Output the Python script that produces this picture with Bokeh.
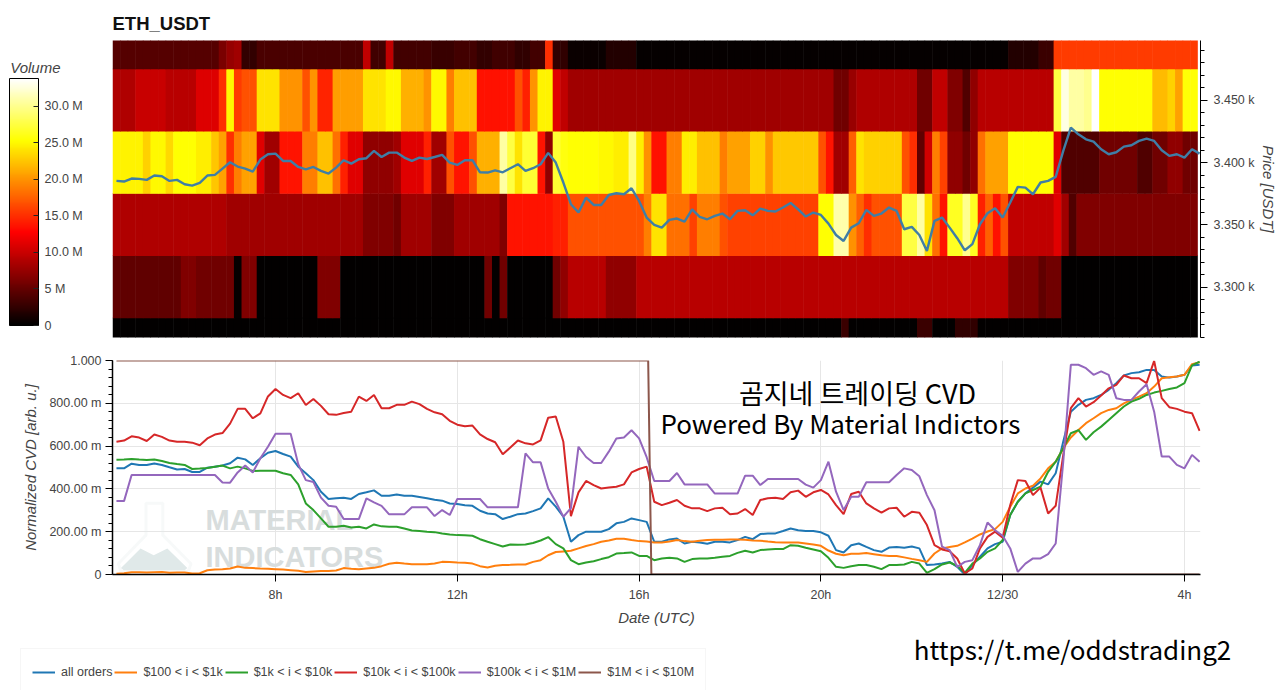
import numpy as np
from bokeh.plotting import figure
from bokeh.layouts import column
from bokeh.embed import file_html
from bokeh.resources import INLINE
from bokeh.models import (ColumnDataSource, LinearColorMapper, ColorBar, FixedTicker, Range1d,
                          Legend, LegendItem, Label, PolyAnnotation, LinearAxis)
from bokeh.transform import transform

# ---- data -------------------------------------------------------------
pair = "ETH_USDT"
price_bins = [3250, 3300, 3350, 3400, 3450, 3500]
volume_3500 = [4.3]*14+[6.2,7.5,8]+[2.6]*2+[3.7]*14+[9.6]+[3.2]*2+[9.6]+[3.4]*5+[2.8]*3+[3.4]*3+[2.6]*2+[3.2]*3+[2.4]*2+[3.4]*2+[15]+[2.4]*2+[.6]*5+[1.8]*4+[.3]*49+[1.8]*4+[3]*2+[15.6]*19
volume_3450 = [8.8]*3+[10]*4+[9.2]*4+[11]*3+[15,25,15.7]+[16.7]*2+[24]*3+[20]*3+[16.7,20]+[14.5]*2+[20.5]*4+[24]*3+[25]*2+[21.5]*3+[20]+[25]*2+[19]+[22.3]*3+[13.5]*5+[16.7,14.3,20]+[24.7]*2+[11.2,9.6]+[8]*35+[5.6]*2+[7.6]+[8.8]*8+[5.6]*2+[9.6]*2+[6.4]*2+[4,7.2]+[9.2]*10+[27.5,32.8]+[30.7]*2+[30,33.8]+[25.4]*7+[22]*2+[23.1,20.7]+[25.6]*2
volume_3400 = [24.7]*4+[23]+[25]*2+[23.5]+[25.4]*3+[24.5]*2+[22.5,20.7,15,19]+[20.7]*2+[11.2]+[8]*2+[13.7]*3+[19]*2+[22.3]*2+[18.3,14.3]+[11.2]*2+[7.2]*4+[8]+[11.2]*3+[14.3]+[8]*2+[16.7]+[13.7]*2+[16.7]+[21.5]*3+[30.7,27.5,23.9]+[27]*2+[13.7,7.2]+[27,25.8,25.4,25.4,25.4,25.4,25,25,24.5,24.5,29.6,24.5]+[19.9]+[13.5]*2+[19]*2+[24.5]*2+[22.3]*3+[19]+[20.7]*3+[23.1]*2+[19.9]+[22.7]*6+[16.7,13.7]+[8]*2+[17.5,23.9]+[23.1]*5+[16.7,15,4.8,10.4,19,15.9]+[7.2]*2+[5.6,7.2,18.3]+[20.7]*3+[25.4]*6+[11.2]+[4]*5+[5.6]*5+[4]*2+[5.6]*2+[7.2]*2+[5.6]*2
volume_3350 = [8.8]*15+[8]*18+[6.4]*4+[5.6]+[8]*4+[6.4]*3+[8]*6+[6.4]+[13.7]*6+[14.3]*2+[16.7]*10+[19]+[23.9]*2+[18.3]*3+[15.9]+[19]*3+[16.7]+[15.9]*12+[25.4]*2+[31]*2+[19.9,17.5,15]+[16.7]*4+[27.5]*2+[30.7,23.9,18.3,13.5]+[26.5]*2+[30,26.5,14.3,17.5,13.5,16.7]+[9.6]*6+[11.2,8,4]+[6.4]*16
volume_3300 = [4.8]*9+[6.4]*2+[5.6]*5+[.3]+[6.4]*2+[.2]*8+[6.4]*3+[.2]*19+[5.6,.2,5.6]+[.2]*6+[5.6,7.2]+[9.2]*5+[7.2]*4+[9.2]*49+[6.4]*4+[4.8]+[5.6]*2+[.2]*18
volume_3250 = [.2]*96+[3]+[.2]*9+[3]*2+[.2]*3+[2.4]*3+[.2]*29

price = [3385.3,3384.8,3387.2,3386.9,3386.1,3389.6,3389.0,3385.3,3386.1,3382.6,3381.5,3383.7,3389.6,3390.1,3395.2,3400.3,3396.8,3395.2,3392.8,3402.4,3406.7,3407.2,3401.3,3401.3,3396.5,3394.6,3396.5,3393.3,3391.2,3396,3401.9,3399.2,3402.7,3403.5,3409.4,3404.5,3408,3408,3404,3401.3,3404,3402.9,
3404.5,3406.2,3400,3398.1,3401.9,3401.9,3392.2,3392,3393.8,3392.2,3395.5,3398.7,3393.3,3395.5,3398.7,3407.8,3400,3384,3366.6,3359.9,3371.9,3366,3366,3374,3375.4,3374.6,3379.4,3369.2,3355.9,3350,3347.8,3354,3355.1,3352.6,3362.5,3356.4,3354.5,3357.2,3359.1,3354.5,3361.2,3361.7,3357.7,3363.1,3361.2,3360.7,3363.9,3367.6,3362.5,3356.7,3359.9,3358,3351,3341.9,3337.1,3347.8,
3351.3,3362,3357.2,3359.1,3363.9,3361.2,3346.5,3348.4,3341.9,3329.1,3353.2,3355.9,3347.8,3339.3,3329.6,3334.5,3350.5,3359.3,3363.4,3355.9,3367.9,3380.5,3379.9,3374.6,3384,3385.3,3388.5,3409.4,3428.1,3422.7,3418.7,3416.9,3410.7,3406.7,3408.3,3412.8,3413.9,3417.4,3419.3,3417.4,3409.9,3405.4,3406.7,3404,3410.7,3407.2]

cvd_all = [.496,.496,.518,.512,.512,.519,.512,.501,.491,.493,.479,.479,.499,.504,.509,.52,.546,.538,.512,.543,.569,.577,.563,.551,.504,.473,.441,.387,.353,.356,.359,.353,.376,.384,.393,.368,.368,.374,.368,.368,.362,.356,
.349,.345,.332,.329,.324,.321,.298,.285,.282,.259,.27,.282,.285,.296,.309,.356,.317,.27,.153,.184,.2,.2,.2,.212,.239,.246,.262,.254,.246,.153,.153,.164,.168,.145,.153,.15,.144,.153,.153,.15,.161,.176,.165,.189,.192,.192,.203,.215,.207,.203,.203,.197,.181,.114,.103,.137,
.145,.129,.114,.106,.126,.128,.125,.131,.122,.044,.047,.051,.059,.036,0,.044,.083,.122,.142,.153,.278,.34,.379,.406,.434,.421,.473,.621,.761,.793,.816,.824,.839,.863,.894,.93,.941,.945,.956,.956,.925,.92,.925,.933,.977,.98]
cvd_100_1k = [.003,.006,.011,.011,.009,.011,.012,.008,.009,.009,.005,.006,.02,.023,.025,.028,.037,.031,.03,.028,.027,.025,.023,.02,.017,.012,.014,.016,.016,.019,.03,.027,.025,.028,.031,.039,.05,.055,.051,.048,.048,.048,
.051,.059,.058,.056,.055,.051,.039,.033,.041,.044,.045,.047,.047,.059,.067,.09,.105,.108,.111,.122,.133,.142,.153,.159,.167,.167,.161,.156,.154,.15,.15,.154,.161,.156,.153,.158,.161,.162,.162,.164,.164,.162,.159,.158,.154,.151,.15,.15,.15,.145,.14,.134,.112,.097,.09,.097,
.097,.1,.095,.09,.087,.086,.08,.073,.067,.059,.098,.122,.128,.134,.15,.168,.187,.201,.212,.246,.317,.379,.402,.415,.449,.496,.527,.59,.64,.675,.707,.73,.754,.769,.777,.8,.816,.831,.847,.878,.917,.922,.925,.933,.983,.992]
cvd_1k_10k = [.536,.537,.54,.537,.535,.537,.53,.521,.516,.512,.493,.495,.498,.504,.509,.496,.504,.496,.484,.485,.485,.485,.473,.465,.421,.332,.301,.262,.223,.223,.228,.22,.223,.215,.234,.225,.223,.223,.215,.206,.203,.2,
.198,.192,.187,.184,.183,.181,.165,.153,.142,.131,.14,.139,.14,.147,.159,.175,.142,.122,.067,.048,.056,.062,.072,.081,.098,.1,.103,.087,.087,.067,.075,.078,.075,.059,.072,.075,.075,.078,.083,.087,.101,.111,.103,.114,.117,.119,.119,.137,.134,.125,.117,.109,.078,.036,.031,.039,
.044,.044,.036,.025,.044,.044,.047,.059,.051,.008,.025,.047,.056,.041,.008,.051,.075,.106,.122,.161,.278,.34,.379,.395,.41,.48,.527,.59,.66,.675,.629,.665,.691,.722,.754,.785,.808,.821,.839,.85,.858,.867,.874,.894,.977,.995]
cvd_10k_100k = [.62,.626,.646,.64,.624,.654,.643,.626,.62,.62,.616,.604,.636,.654,.661,.705,.774,.774,.73,.753,.832,.867,.839,.824,.847,.792,.82,.788,.749,.746,.755,.761,.831,.811,.839,.777,.777,.793,.793,.808,.796,.774,
.758,.749,.718,.7,.693,.696,.655,.633,.618,.562,.593,.626,.613,.608,.627,.733,.738,.62,.273,.384,.437,.418,.402,.406,.41,.421,.477,.493,.504,.34,.324,.335,.348,.321,.309,.309,.296,.309,.312,.281,.285,.306,.278,.348,.356,.359,.353,.384,.392,.363,.384,.395,.374,.324,.282,.376,
.387,.332,.309,.289,.309,.312,.27,.293,.289,.231,.137,.117,.109,.075,.005,.028,.122,.176,.2,.172,.325,.441,.437,.371,.406,.285,.321,.559,.777,.824,.785,.805,.836,.87,.886,.93,.917,.917,.894,.998,.824,.782,.774,.761,.754,.671]
cvd_100k_1m = [.343,.343,.465,.465,.465,.465,.465,.465,.465,.465,.465,.465,.465,.465,.43,.429,.477,.509,.477,.543,.597,.658,.658,.658,.515,.441,.432,.359,.321,.317,.259,.259,.259,.356,.337,.321,.281,.281,.281,.314,.314,.314,
.273,.301,.278,.353,.353,.353,.353,.314,.314,.314,.314,.314,.566,.524,.524,.402,.34,.27,.31,.597,.549,.521,.521,.574,.636,.64,.674,.636,.548,.437,.437,.437,.474,.421,.421,.421,.421,.378,.378,.378,.378,.462,.462,.418,.446,.446,.446,.446,.446,.42,.406,.441,.527,.387,.301,.363,
.363,.431,.431,.431,.431,.465,.496,.488,.459,.371,.3,.13,.114,.036,.059,.067,.137,.243,.207,.181,.122,.012,.051,.075,.075,.095,.145,.527,.98,.98,.964,.933,.949,.933,.824,.816,.816,.855,.889,.761,.551,.551,.512,.496,.559,.527]
cvd_1m_10m_hours = [4.5, 16.2, 16.27, 28.33]
cvd_1m_10m = [1.0, 1.0, 0.0, 0.0]
series_labels = ["all orders", "$100 < i < $1k", "$1k < i < $10k", "$10k < i < $100k", "$100k < i < $1M", "$1M < i < $10M"]
series_colors = ["#1f77b4", "#ff7f0e", "#2ca02c", "#d62728", "#9467bd", "#8c564b"]
price_ticks = [3300, 3350, 3400, 3450]
price_tick_labels = ["3.300 k", "3.350 k", "3.400 k", "3.450 k"]
cvd_ticks = [0, .2, .4, .6, .8, 1.0]
cvd_tick_labels = ["0", "200.00 m", "400.00 m", "600.00 m", "800.00 m", "1.000"]
time_ticks = [8, 12, 16, 20, 24, 28]
time_tick_labels = ["8h", "12h", "16h", "20h", "12/30", "4h"]
volume_ticks = [0, 5, 10, 15, 20, 25, 30]
volume_tick_labels = ["0", "5 M", "10.0 M", "15.0 M", "20.0 M", "25.0 M", "30.0 M"]

# ---- helpers ----------------------------------------------------------
DAY0 = np.datetime64("2024-12-29T00:00:00", "ms").astype("int64")
def ms(h):
    return DAY0 + np.asarray(h, dtype=float) * 3600_000.0

def hot_palette(n=256):
    t = np.linspace(0, 1, n)
    r = np.clip(t / 0.375, 0, 1)
    g = np.clip((t - 0.375) / 0.375, 0, 1)
    b = np.clip((t - 0.75) / 0.25, 0, 1)
    return ["#%02x%02x%02x" % (int(a * 255), int(c * 255), int(d * 255)) for a, c, d in zip(r, g, b)]

n_col = 143
rows = [volume_3250, volume_3300, volume_3350, volume_3400, volume_3450, volume_3500]
for r in rows:
    assert len(r) == n_col, len(r)
for s in [cvd_all, cvd_100_1k, cvd_1k_10k, cvd_10k_100k, cvd_100k_1m, price]:
    assert len(s) == 144, len(s)

HEAT_START = 4.413
COL_H = 10.02 / 60
X0, X1 = float(ms(HEAT_START)), float(ms(28.353))
line_h = 4.5 + np.arange(144) / 6.0

left, right, bot, top, val = [], [], [], [], []
for b, r in zip(price_bins, rows):
    for i, v in enumerate(r):
        left.append(float(ms(HEAT_START + COL_H * i)))
        # each cell runs slightly under its neighbour so no seam shows between cells
        right.append(float(ms(HEAT_START + COL_H * (i + 1) + (0.012 if i < n_col - 1 else 0))))
        bot.append(b - 25); top.append(b + 25.4); val.append(v)

FONT = "Liberation Sans"
GREY = "#444444"

# ---- top heat map -----------------------------------------------------
p1 = figure(width=1280, height=352, x_axis_type="datetime", x_axis_location=None,
            y_axis_location="right", toolbar_location=None, output_backend="svg",
            x_range=Range1d(X0, X1), y_range=Range1d(3259.6, 3498),
            min_border_left=112, min_border_right=80, min_border_top=40, min_border_bottom=15,
            title=pair, outline_line_color=None)
p1.title.text_font = FONT
p1.title.text_font_size = "18.5px"
p1.title.text_font_style = "bold"
p1.title.text_color = "#111111"
p1.title.align = "left"
p1.title.standoff = 13
p1.grid.visible = False

mapper = LinearColorMapper(palette=hot_palette(), low=0, high=33.8)
src = ColumnDataSource(dict(left=left, right=right, bottom=bot, top=top, val=val))
p1.quad(left="left", right="right", bottom="bottom", top="top", source=src,
        fill_color=transform("val", mapper), line_color=None)
p1.line(ms(line_h), price, line_color="#3f7ea6", line_width=2.4)

ax = p1.yaxis[0]
ax.ticker = FixedTicker(ticks=price_ticks, minor_ticks=list(range(3260, 3500, 10)))
ax.major_label_overrides = dict(zip(price_ticks, price_tick_labels))
ax.axis_label = "Price [USDT]"
ax.axis_label_text_font = FONT
ax.axis_label_text_font_style = "italic"
ax.axis_label_text_font_size = "15px"
ax.axis_label_text_color = GREY
ax.axis_label_standoff = 2
ax.major_label_text_font = FONT
ax.major_label_text_font_size = "12.5px"
ax.major_label_text_color = GREY
ax.major_label_standoff = 6
ax.axis_line_color = "#000000"
ax.major_tick_line_color = "#000000"
ax.minor_tick_line_color = "#000000"
ax.major_tick_in = 0; ax.major_tick_out = 7
ax.minor_tick_in = 0; ax.minor_tick_out = 4

cb = ColorBar(color_mapper=mapper, location=(-103, 12), width=29, height=247,
              ticker=FixedTicker(ticks=volume_ticks),
              major_label_overrides=dict(zip(volume_ticks, volume_tick_labels)),
              major_label_text_font=FONT, major_label_text_font_size="12.5px",
              major_label_text_color=GREY, major_tick_line_color="#222222", major_tick_in=5,
              bar_line_color="#000000", border_line_color=None, background_fill_color=None,
              label_standoff=6, padding=0, margin=0)
p1.add_layout(cb, "center")

# the colour bar's heading: a one-label axis is the only text Bokeh leaves unclipped in this margin
VOLUME_TICK = 3476
vol_axis = LinearAxis(ticker=FixedTicker(ticks=[VOLUME_TICK]),
                      major_label_overrides={VOLUME_TICK: "Volume"},
                      major_label_text_font=FONT, major_label_text_font_style="italic",
                      major_label_text_font_size="15px", major_label_text_color=GREY,
                      major_label_standoff=52, axis_line_color=None, major_tick_line_color=None,
                      minor_tick_line_color=None, major_tick_in=0, major_tick_out=0)
p1.add_layout(vol_axis, "left")

# ---- bottom CVD -------------------------------------------------------
p2 = figure(width=1280, height=278, x_axis_type="datetime", toolbar_location=None,
            output_backend="svg", x_range=Range1d(X0, X1), y_range=Range1d(0, 1),
            min_border_left=112, min_border_right=80, min_border_top=8, min_border_bottom=56,
            outline_line_color=None)
p2.grid.grid_line_color = "#e6e6e6"

flask = PolyAnnotation(xs=ms([5.15, 5.52, 5.52, 6.14, 6.08, 4.6, 4.54, 5.15]).tolist(),
                       ys=[.333, .333, .184, .05, .015, .015, .05, .184],
                       fill_alpha=0, line_color="#e6eaea", line_width=3, level="underlay")
peak = PolyAnnotation(xs=ms([4.6, 5.03, 5.32, 5.62, 6.06, 6.0, 4.66]).tolist(),
                      ys=[.03, .122, .09, .122, .03, .02, .02],
                      fill_color="#e0e9e9", fill_alpha=1, line_color=None, level="underlay")
p2.add_layout(flask); p2.add_layout(peak)
for txt, hh, vv in [("MATERIAL", 6.46, .254), ("INDICATORS", 6.46, .08)]:
    p2.add_layout(Label(x=float(ms(hh)), y=vv, text=txt, text_font=FONT, text_font_style="bold",
                        text_font_size="29px", text_color="#d8dddd", text_baseline="middle",
                        text_align="left", level="underlay"))

all_series = [(line_h, cvd_all), (line_h, cvd_100_1k), (line_h, cvd_1k_10k), (line_h, cvd_10k_100k),
              (line_h, cvd_100k_1m), (cvd_1m_10m_hours, cvd_1m_10m)]
for (hs, ys), col in zip(all_series, series_colors):
    p2.line(ms(hs), ys, line_color=col, line_width=2)

ya, xa = p2.yaxis[0], p2.xaxis[0]
ya.ticker = FixedTicker(ticks=cvd_ticks, minor_ticks=[round(i * .04, 2) for i in range(26)])
ya.major_label_overrides = dict(zip(cvd_ticks, cvd_tick_labels))
ya.axis_label = "Normalized CVD [arb. u.]"
xa.ticker = FixedTicker(ticks=[float(ms(t)) for t in time_ticks])
xa.major_label_overrides = {float(ms(t)): l for t, l in zip(time_ticks, time_tick_labels)}
xa.axis_label = "Date (UTC)"
for a in (ya, xa):
    a.axis_label_text_font = FONT
    a.axis_label_text_font_style = "italic"
    a.axis_label_text_font_size = "15px"
    a.axis_label_text_color = GREY
    a.major_label_text_font = FONT
    a.major_label_text_font_size = "12.5px"
    a.major_label_text_color = GREY
    a.axis_line_color = "#000000"
    a.axis_line_width = 1.5
    a.major_tick_line_color = "#000000"
    a.major_tick_in = 0; a.major_tick_out = 7
ya.minor_tick_line_color = "#000000"
ya.minor_tick_in = 0; ya.minor_tick_out = 4
xa.minor_tick_line_color = None
xa.major_label_standoff = 6
xa.axis_label_standoff = 4
ya.major_label_standoff = 4
ya.axis_label_standoff = 7

def px_h(px):
    return float(ms(8 + (px - 275) / 45.45))
def px_v(py):
    return (574.3 - py) / 214.0
for txt, cx, cy, size in [("곰지네 트레이딩 CVD", 857, 392, "27px"),
                          ("Powered By Material Indictors", 840, 422, "26px")]:
    p2.add_layout(Label(x=px_h(cx), y=px_v(cy), text=txt, text_font="Noto Sans CJK KR", text_font_size=size,
                        text_color="#000000", text_align="center", text_baseline="middle", level="overlay"))

# ---- strip below the chart: legend and link ---------------------------
p3 = figure(width=1280, height=60, x_axis_location=None, y_axis_location=None, toolbar_location=None,
            output_backend="svg", x_range=Range1d(0, 1280), y_range=Range1d(60, 0),
            min_border_left=0, min_border_right=0, min_border_top=0, min_border_bottom=0,
            outline_line_color=None)
p3.grid.visible = False
# the series' lines sit far outside this strip's range, so only their legend keys show
keys = [p3.line(ms(hs), ys, line_color=c, line_width=2) for (hs, ys), c in zip(all_series, series_colors)]
legend = Legend(items=[LegendItem(label=l, renderers=[r]) for l, r in zip(series_labels, keys)],
                orientation="horizontal", location=(20, -6), label_text_font=FONT,
                label_text_font_size="12.5px", label_text_color=GREY, glyph_width=23,
                label_height=24, glyph_height=24,
                label_standoff=6, spacing=2, padding=11, margin=0, border_line_color="#eeeeee",
                background_fill_color="#ffffff", background_fill_alpha=1)
p3.add_layout(legend, "center")
p3.add_layout(Label(x=1072, y=18, text="https://t.me/oddstrading2", text_font="Noto Sans CJK KR",
                    text_font_size="26px", text_color="#000000", text_align="center", text_baseline="middle"))

layout = column(column(p1, p2, spacing=0), p3, spacing=0)
open("out.html", "w").write(file_html(layout, INLINE))
